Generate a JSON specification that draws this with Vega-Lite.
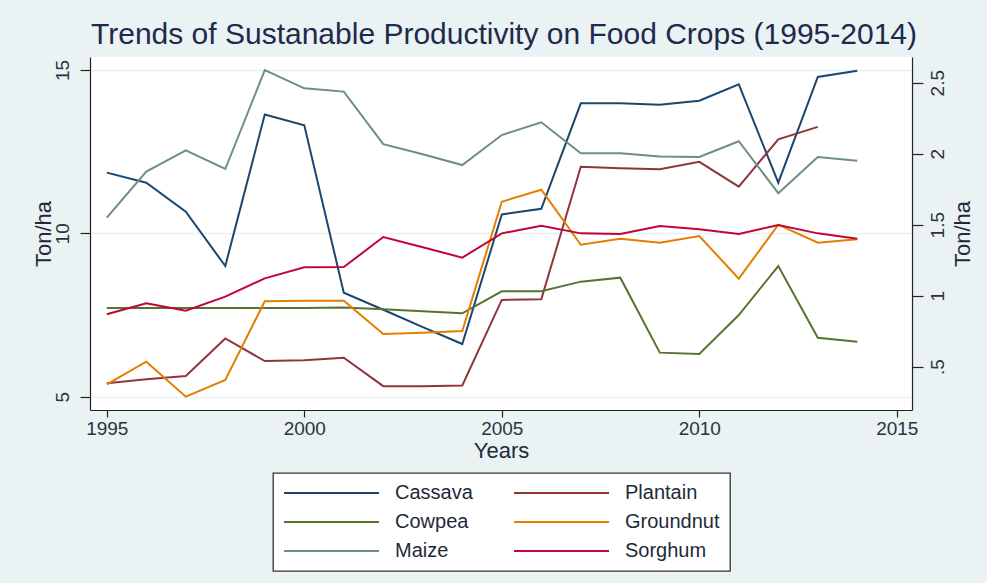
{
  "$schema": "https://vega.github.io/schema/vega-lite/v6.json",
  "width": 822,
  "height": 353,
  "autosize": {"type": "none"},
  "padding": {"left": 90, "top": 57, "right": 75, "bottom": 173},
  "background": "#eaf2f3",
  "title": {
    "text": "Trends of Sustanable Productivity on Food Crops (1995-2014)",
    "fontSize": 30,
    "font": "Liberation Sans",
    "fontWeight": "normal",
    "color": "#1e2a4a",
    "anchor": "middle",
    "frame": "group",
    "baseline": "alphabetic",
    "offset": 10,
    "dx": 3,
    "dy": 27
  },
  "data": {
    "values": [
      {"year": 1995, "crop": "Cassava", "value": 11.86},
      {"year": 1996, "crop": "Cassava", "value": 11.55},
      {"year": 1997, "crop": "Cassava", "value": 10.66},
      {"year": 1998, "crop": "Cassava", "value": 9.0},
      {"year": 1999, "crop": "Cassava", "value": 13.64},
      {"year": 2000, "crop": "Cassava", "value": 13.31},
      {"year": 2001, "crop": "Cassava", "value": 8.18},
      {"year": 2002, "crop": "Cassava", "value": 7.66},
      {"year": 2003, "crop": "Cassava", "value": 7.13},
      {"year": 2004, "crop": "Cassava", "value": 6.61},
      {"year": 2005, "crop": "Cassava", "value": 10.58},
      {"year": 2006, "crop": "Cassava", "value": 10.75},
      {"year": 2007, "crop": "Cassava", "value": 13.98},
      {"year": 2008, "crop": "Cassava", "value": 13.98},
      {"year": 2009, "crop": "Cassava", "value": 13.94},
      {"year": 2010, "crop": "Cassava", "value": 14.06},
      {"year": 2011, "crop": "Cassava", "value": 14.56},
      {"year": 2012, "crop": "Cassava", "value": 11.55},
      {"year": 2013, "crop": "Cassava", "value": 14.79},
      {"year": 2014, "crop": "Cassava", "value": 14.98},
      {"year": 1995, "crop": "Plantain", "value": 5.41},
      {"year": 1996, "crop": "Plantain", "value": 5.53},
      {"year": 1997, "crop": "Plantain", "value": 5.63},
      {"year": 1998, "crop": "Plantain", "value": 6.78},
      {"year": 1999, "crop": "Plantain", "value": 6.09},
      {"year": 2000, "crop": "Plantain", "value": 6.11},
      {"year": 2001, "crop": "Plantain", "value": 6.19},
      {"year": 2002, "crop": "Plantain", "value": 5.32},
      {"year": 2003, "crop": "Plantain", "value": 5.32},
      {"year": 2004, "crop": "Plantain", "value": 5.34},
      {"year": 2005, "crop": "Plantain", "value": 7.96},
      {"year": 2006, "crop": "Plantain", "value": 7.98},
      {"year": 2007, "crop": "Plantain", "value": 12.04},
      {"year": 2008, "crop": "Plantain", "value": 11.99},
      {"year": 2009, "crop": "Plantain", "value": 11.96},
      {"year": 2010, "crop": "Plantain", "value": 12.19},
      {"year": 2011, "crop": "Plantain", "value": 11.43},
      {"year": 2012, "crop": "Plantain", "value": 12.88},
      {"year": 2013, "crop": "Plantain", "value": 13.26},
      {"year": 1995, "crop": "Maize", "value": 10.48},
      {"year": 1996, "crop": "Maize", "value": 11.89},
      {"year": 1997, "crop": "Maize", "value": 12.54},
      {"year": 1998, "crop": "Maize", "value": 11.97},
      {"year": 1999, "crop": "Maize", "value": 15.0},
      {"year": 2000, "crop": "Maize", "value": 14.44},
      {"year": 2001, "crop": "Maize", "value": 14.34},
      {"year": 2002, "crop": "Maize", "value": 12.73},
      {"year": 2003, "crop": "Maize", "value": 12.42},
      {"year": 2004, "crop": "Maize", "value": 12.09},
      {"year": 2005, "crop": "Maize", "value": 13.01},
      {"year": 2006, "crop": "Maize", "value": 13.4},
      {"year": 2007, "crop": "Maize", "value": 12.45},
      {"year": 2008, "crop": "Maize", "value": 12.45},
      {"year": 2009, "crop": "Maize", "value": 12.35},
      {"year": 2010, "crop": "Maize", "value": 12.34},
      {"year": 2011, "crop": "Maize", "value": 12.82},
      {"year": 2012, "crop": "Maize", "value": 11.23},
      {"year": 2013, "crop": "Maize", "value": 12.34},
      {"year": 2014, "crop": "Maize", "value": 12.22},
      {"year": 1995, "crop": "Cowpea", "value": 0.913},
      {"year": 1996, "crop": "Cowpea", "value": 0.913},
      {"year": 1997, "crop": "Cowpea", "value": 0.913},
      {"year": 1998, "crop": "Cowpea", "value": 0.913},
      {"year": 1999, "crop": "Cowpea", "value": 0.913},
      {"year": 2000, "crop": "Cowpea", "value": 0.913},
      {"year": 2001, "crop": "Cowpea", "value": 0.916},
      {"year": 2002, "crop": "Cowpea", "value": 0.904},
      {"year": 2003, "crop": "Cowpea", "value": 0.89},
      {"year": 2004, "crop": "Cowpea", "value": 0.876},
      {"year": 2005, "crop": "Cowpea", "value": 1.031},
      {"year": 2006, "crop": "Cowpea", "value": 1.031},
      {"year": 2007, "crop": "Cowpea", "value": 1.099},
      {"year": 2008, "crop": "Cowpea", "value": 1.127},
      {"year": 2009, "crop": "Cowpea", "value": 0.599},
      {"year": 2010, "crop": "Cowpea", "value": 0.589},
      {"year": 2011, "crop": "Cowpea", "value": 0.864},
      {"year": 2012, "crop": "Cowpea", "value": 1.209},
      {"year": 2013, "crop": "Cowpea", "value": 0.704},
      {"year": 2014, "crop": "Cowpea", "value": 0.676},
      {"year": 1995, "crop": "Groundnut", "value": 0.376},
      {"year": 1996, "crop": "Groundnut", "value": 0.535},
      {"year": 1997, "crop": "Groundnut", "value": 0.289},
      {"year": 1998, "crop": "Groundnut", "value": 0.406},
      {"year": 1999, "crop": "Groundnut", "value": 0.961},
      {"year": 2000, "crop": "Groundnut", "value": 0.965},
      {"year": 2001, "crop": "Groundnut", "value": 0.965},
      {"year": 2002, "crop": "Groundnut", "value": 0.73},
      {"year": 2003, "crop": "Groundnut", "value": 0.739},
      {"year": 2004, "crop": "Groundnut", "value": 0.751},
      {"year": 2005, "crop": "Groundnut", "value": 1.662},
      {"year": 2006, "crop": "Groundnut", "value": 1.746},
      {"year": 2007, "crop": "Groundnut", "value": 1.359},
      {"year": 2008, "crop": "Groundnut", "value": 1.401},
      {"year": 2009, "crop": "Groundnut", "value": 1.373},
      {"year": 2010, "crop": "Groundnut", "value": 1.42},
      {"year": 2011, "crop": "Groundnut", "value": 1.12},
      {"year": 2012, "crop": "Groundnut", "value": 1.5},
      {"year": 2013, "crop": "Groundnut", "value": 1.373},
      {"year": 2014, "crop": "Groundnut", "value": 1.397},
      {"year": 1995, "crop": "Sorghum", "value": 0.869},
      {"year": 1996, "crop": "Sorghum", "value": 0.946},
      {"year": 1997, "crop": "Sorghum", "value": 0.894},
      {"year": 1998, "crop": "Sorghum", "value": 0.993},
      {"year": 1999, "crop": "Sorghum", "value": 1.122},
      {"year": 2000, "crop": "Sorghum", "value": 1.2},
      {"year": 2001, "crop": "Sorghum", "value": 1.202},
      {"year": 2002, "crop": "Sorghum", "value": 1.413},
      {"year": 2003, "crop": "Sorghum", "value": 1.341},
      {"year": 2004, "crop": "Sorghum", "value": 1.268},
      {"year": 2005, "crop": "Sorghum", "value": 1.439},
      {"year": 2006, "crop": "Sorghum", "value": 1.493},
      {"year": 2007, "crop": "Sorghum", "value": 1.439},
      {"year": 2008, "crop": "Sorghum", "value": 1.434},
      {"year": 2009, "crop": "Sorghum", "value": 1.491},
      {"year": 2010, "crop": "Sorghum", "value": 1.468},
      {"year": 2011, "crop": "Sorghum", "value": 1.434},
      {"year": 2012, "crop": "Sorghum", "value": 1.498},
      {"year": 2013, "crop": "Sorghum", "value": 1.439},
      {"year": 2014, "crop": "Sorghum", "value": 1.401}
    ]
  },
  "layer": [
    {
      "transform": [{"filter": {"field": "crop", "oneOf": ["Cassava", "Plantain", "Maize"]}}],
      "mark": {"type": "line", "strokeWidth": 2},
      "encoding": {
        "x": {
          "field": "year", "type": "quantitative",
          "scale": {"domain": [1994.575, 2015.385], "nice": false, "zero": false},
          "axis": {
            "values": [1995, 2000, 2005, 2010, 2015], "format": "d",
            "title": "Years", "titleFontSize": 22, "titleY": 47.5, "titleBaseline": "alphabetic",
            "tickSize": 7, "labelPadding": 2, "labelFontSize": 19, "grid": false
          }
        },
        "y": {
          "field": "value", "type": "quantitative",
          "scale": {"domain": [4.59, 15.4], "nice": false, "zero": false},
          "axis": {
            "values": [5, 10, 15], "title": "Ton/ha",
            "titleAngle": 270, "titleX": -40, "titleY": 176.5, "titleAlign": "center", "titleBaseline": "alphabetic", "titleFontSize": 22,
            "labelAngle": 270, "labelAlign": "center", "labelBaseline": "alphabetic", "labelFontSize": 19,
            "tickSize": 10, "labelPadding": 12,
            "grid": true, "gridColor": "#eaf2f3", "gridWidth": 1.5
          }
        },
        "color": {
          "field": "crop", "type": "nominal",
          "scale": {
            "domain": ["Cassava", "Plantain", "Cowpea", "Groundnut", "Maize", "Sorghum"],
            "range": ["#1a476f", "#90353b", "#55752f", "#e37e00", "#6e8e84", "#c10534"]
          },
          "legend": {
            "orient": "none", "legendX": 183, "legendY": 416, "columns": 2, "direction": "horizontal", "title": null,
            "symbolType": "stroke", "symbolSize": 9025, "symbolStrokeWidth": 2, "clipHeight": 20,
            "labelFontSize": 20, "labelOffset": 15, "columnPadding": 40, "rowPadding": 9, "padding": 10,
            "fillColor": "white", "strokeColor": "#333333", "labelColor": "#1e2a3a", "labelLimit": 200
          }
        }
      }
    },
    {
      "transform": [{"filter": {"field": "crop", "oneOf": ["Cowpea", "Groundnut", "Sorghum"]}}],
      "mark": {"type": "line", "strokeWidth": 2},
      "encoding": {
        "x": {"field": "year", "type": "quantitative"},
        "y": {
          "field": "value", "type": "quantitative",
          "scale": {"domain": [0.195, 2.681], "nice": false, "zero": false},
          "axis": {
            "orient": "right", "values": [0.5, 1, 1.5, 2, 2.5],
            "labelExpr": "datum.value == 0.5 ? '.5' : format(datum.value, '~g')",
            "title": "Ton/ha",
            "titleAngle": 270, "titleX": 57, "titleY": 176.5, "titleAlign": "center", "titleBaseline": "alphabetic", "titleFontSize": 22,
            "labelAngle": 270, "labelAlign": "center", "labelBaseline": "top", "labelFontSize": 19,
            "tickSize": 11, "labelPadding": 5, "grid": false
          }
        },
        "color": {
          "field": "crop", "type": "nominal",
          "scale": {
            "domain": ["Cassava", "Plantain", "Cowpea", "Groundnut", "Maize", "Sorghum"],
            "range": ["#1a476f", "#90353b", "#55752f", "#e37e00", "#6e8e84", "#c10534"]
          },
          "legend": {
            "orient": "none", "legendX": 183, "legendY": 416, "columns": 2, "direction": "horizontal", "title": null,
            "symbolType": "stroke", "symbolSize": 9025, "symbolStrokeWidth": 2, "clipHeight": 20,
            "labelFontSize": 20, "labelOffset": 15, "columnPadding": 40, "rowPadding": 9, "padding": 10,
            "fillColor": "white", "strokeColor": "#333333", "labelColor": "#1e2a3a", "labelLimit": 200
          }
        }
      }
    }
  ],
  "resolve": {"scale": {"y": "independent"}},
  "config": {
    "font": "Liberation Sans",
    "view": {"fill": "white", "stroke": null},
    "axis": {
      "domainColor": "#222222", "domainWidth": 1.2,
      "tickColor": "#222222", "tickWidth": 1.2,
      "labelColor": "#2a3440", "titleColor": "#1e2a3a",
      "titleFontWeight": "normal", "labelFont": "Liberation Sans", "titleFont": "Liberation Sans"
    },
    "legend": {"strokeWidth": 1.3, "labelFont": "Liberation Sans"}
  }
}
